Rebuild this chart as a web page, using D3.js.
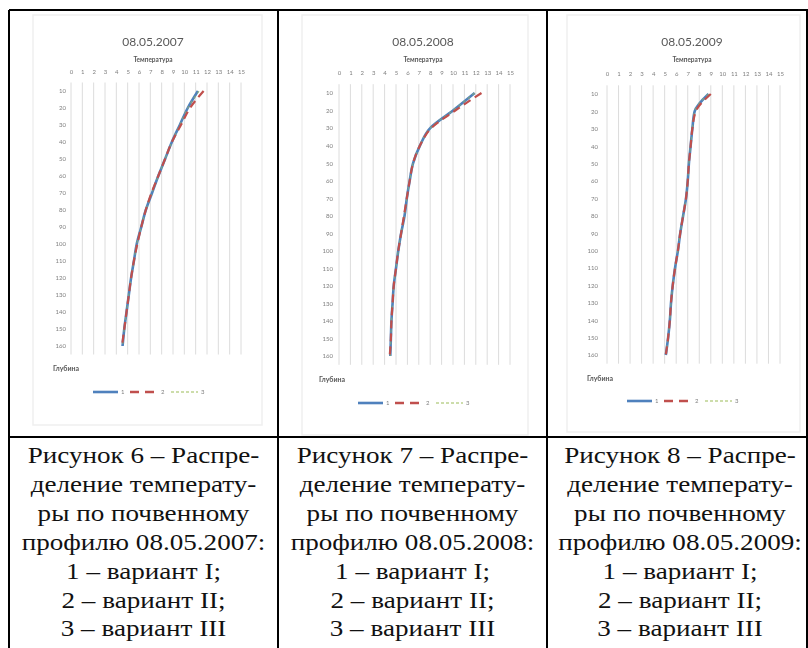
<!DOCTYPE html>
<html><head><meta charset="utf-8">
<script src="https://cdn.jsdelivr.net/npm/d3@7"></script>
<style>html,body{margin:0;padding:0;background:#fff;}svg{display:block;}
.cap{font-family:"Liberation Serif","Tinos","DejaVu Serif","Noto Serif",serif;}
.xl{font-family:Lato,"Open Sans",sans-serif;}
</style>
</head><body>
<svg id="chart" width="808" height="648"></svg>
<script>
// ---------- data ----------
const depths = [10,20,30,40,50,60,70,80,90,100,110,120,130,140,150,160];
const tempTicks = [0,1,2,3,4,5,6,7,8,9,10,11,12,13,14,15];
const seriesNames = ["1","2","3"];
const titles = ["08.05.2007","08.05.2008","08.05.2009"];
const xAxisTitle = "Температура";
const yAxisTitle = "Глубина";

const t2007_1 = [11.2,10.3,9.6,8.9,8.3,7.7,7.15,6.6,6.2,5.8,5.55,5.3,5.1,4.9,4.7,4.55];
const t2007_2 = [11.7,10.5,9.7,8.9,8.3,7.7,7.1,6.6,6.2,5.85,5.55,5.3,5.1,4.9,4.7,4.5];
const t2007_3 = [11.3,10.3,9.6,8.9,8.3,7.7,7.15,6.6,6.2,5.8,5.55,5.3,5.1,4.9,4.7,4.55];

const t2008_1 = [11.9,10.0,8.0,7.1,6.5,6.2,5.95,5.75,5.45,5.2,5.0,4.8,4.7,4.6,4.55,4.5];
const t2008_2 = [12.5,10.2,8.1,7.1,6.5,6.2,5.95,5.7,5.45,5.2,5.0,4.8,4.7,4.6,4.55,4.45];
const t2008_3 = [11.9,10.0,8.0,7.1,6.5,6.2,5.95,5.75,5.45,5.2,5.0,4.8,4.7,4.6,4.55,4.5];

const t2009_1 = [8.8,7.6,7.4,7.25,7.1,7.0,6.85,6.6,6.35,6.15,5.9,5.7,5.55,5.45,5.3,5.1];
const t2009_2 = [9.0,7.7,7.4,7.25,7.1,7.0,6.85,6.6,6.35,6.15,5.9,5.7,5.55,5.45,5.3,5.1];
const t2009_3 = [8.8,7.6,7.4,7.25,7.1,7.0,6.85,6.6,6.35,6.15,5.9,5.7,5.55,5.45,5.3,5.1];

const captions = [
  ["Рисунок 6 – Распре-","деление температу-","ры по почвенному","профилю 08.05.2007:","1 – вариант I;","2 – вариант II;","3 – вариант III"],
  ["Рисунок 7 – Распре-","деление температу-","ры по почвенному","профилю 08.05.2008:","1 – вариант I;","2 – вариант II;","3 – вариант III"],
  ["Рисунок 8 – Распре-","деление температу-","ры по почвенному","профилю 08.05.2009:","1 – вариант I;","2 – вариант II;","3 – вариант III"]
];

// ---------- layout ----------
const panels = [
  {title:titles[0], data:[t2007_1,t2007_2,t2007_3], x0:71,  x1:241, yTop:82.5, yBot:354.5, labelX:66,  titleX:153, area:[33,15,262,425],  glub:[53,369],  legY:392, legX:93},
  {title:titles[1], data:[t2008_1,t2008_2,t2008_3], x0:339, x1:510, yTop:84.2, yBot:364.8, labelX:333, titleX:423, area:[302,15,528,435], glub:[319,380], legY:403, legX:358},
  {title:titles[2], data:[t2009_1,t2009_2,t2009_3], x0:607, x1:780, yTop:85.3, yBot:363.7, labelX:598, titleX:692, area:[567,15,800,432], glub:[587,379], legY:401, legX:627}
];
const colors = ["#4F81BD","#C0504D","#9BBB59"];
const grey = "#7f7f7f";

const svg = d3.select("#chart");
const defs = svg.append("defs");
defs.append("filter").attr("id","soft").attr("x","-5%").attr("y","-5%").attr("width","110%").attr("height","110%")
  .append("feGaussianBlur").attr("stdDeviation",0.55);

panels.forEach(p => {
  const g = svg.append("g").attr("filter","url(#soft)");
  const [ax0,ay0,ax1,ay1] = p.area;
  g.append("rect").attr("x",ax0).attr("y",ay0).attr("width",ax1-ax0).attr("height",ay1-ay0)
    .attr("fill","#fff").attr("stroke","#efefef").attr("stroke-width",1.5);

  const x = d3.scaleLinear().domain([0,15]).range([p.x0,p.x1]);
  const y = d3.scalePoint().domain(depths).range([p.yTop,p.yBot]).padding(0.5);

  g.append("g").selectAll("line").data(tempTicks).join("line")
    .attr("x1",d=>x(d)).attr("x2",d=>x(d)).attr("y1",p.yTop).attr("y2",p.yBot)
    .attr("stroke","#dcdcdc").attr("stroke-width",1);

  const xa = g.append("g").attr("transform",`translate(0,${p.yTop-9})`)
    .call(d3.axisTop(x).tickValues(tempTicks).tickSize(0).tickPadding(0));
  xa.select(".domain").remove();
  xa.selectAll("text").attr("class","xl").attr("fill",grey).attr("font-size",6);

  const ya = g.append("g").attr("transform",`translate(${p.labelX},0)`)
    .call(d3.axisLeft(y).tickSize(0).tickPadding(0));
  ya.select(".domain").remove();
  ya.selectAll("text").attr("class","xl").attr("fill",grey).attr("font-size",6);

  g.append("text").attr("class","xl").attr("x",p.titleX).attr("y",46).attr("text-anchor","middle")
    .attr("font-size",12).attr("fill","#595959").text(p.title);
  g.append("text").attr("class","xl").attr("x",p.titleX).attr("y",62).attr("text-anchor","middle")
    .attr("font-size",6.5).attr("font-weight","bold").attr("fill","#595959").text(xAxisTitle);
  g.append("text").attr("class","xl").attr("x",p.glub[0]).attr("y",p.glub[1]+2).attr("text-anchor","start")
    .attr("font-size",7).attr("font-weight","bold").attr("fill","#595959").text(yAxisTitle);

  const line = d3.line().x(d=>x(d[1])).y(d=>y(d[0])).curve(d3.curveMonotoneY);
  const styles = [
    {w:2.6, dash:null, op:1},
    {w:2.2, dash:"8,5", op:1},
    {w:1.2, dash:"3,3", op:0.6}
  ];
  [0,2,1].forEach(i => {
    g.append("path").datum(depths.map((d,k)=>[d,p.data[i][k]]))
      .attr("d",line).attr("fill","none").attr("stroke",colors[i])
      .attr("stroke-width",styles[i].w).attr("stroke-dasharray",styles[i].dash)
      .attr("stroke-opacity",styles[i].op).attr("stroke-linecap","butt");
  });

  const lg = g.append("g").attr("transform",`translate(${p.legX},${p.legY})`);
  const legItems = [
    {x0:0, x1:25, lx:28},
    {x0:37, x1:66, lx:68},
    {x0:78, x1:105, lx:108}
  ];
  legItems.forEach((it,i)=>{
    lg.append("line").attr("x1",it.x0).attr("x2",it.x1).attr("y1",0).attr("y2",0)
      .attr("stroke",colors[i]).attr("stroke-width",i===2?1.2:2.6)
      .attr("stroke-dasharray",i===0?null:(i===1?"9,6":"3,2"));
    lg.append("text").attr("class","xl").attr("x",it.lx).attr("y",2.2).attr("font-size",6).attr("fill",grey)
      .text(seriesNames[i]);
  });
});

// ---------- table ----------
const tbl = svg.append("g").attr("stroke","#000").attr("stroke-width",2);
[[9,10,808,10],[9,10,9,648],[278,10,278,648],[547,10,547,648],[807,10,807,648],[9,437,808,437]].forEach(l=>{
  tbl.append("line").attr("x1",l[0]).attr("y1",l[1]).attr("x2",l[2]).attr("y2",l[3]);
});

const colCenters = [143.5, 412.5, 680];
captions.forEach((lines,c)=>{
  svg.append("g").selectAll("text").data(lines).join("text")
    .attr("class","cap")
    .attr("text-anchor","middle")
    .attr("transform",(d,i)=>`translate(${colCenters[c]},${463 + i*28.9}) scale(1.13,1)`)
    .attr("font-size",24).attr("fill","#111").text(d=>d);
});
</script>
</body></html>
